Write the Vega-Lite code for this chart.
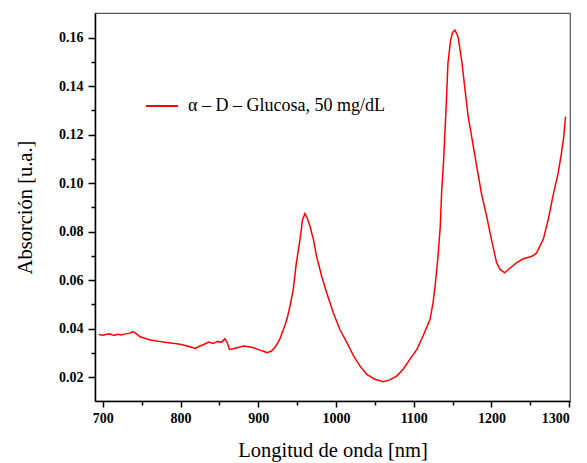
{
  "$schema": "https://vega.github.io/schema/vega-lite/v6.json",
  "width": 475,
  "height": 388,
  "autosize": {"type": "none"},
  "padding": {"left": 95, "top": 13, "right": 17, "bottom": 62},
  "background": "white",
  "config": {
    "view": {"stroke": "#555555", "strokeWidth": 1.2},
    "axis": {
      "grid": false,
      "domainColor": "#000000",
      "domainWidth": 1.5,
      "tickColor": "#000000",
      "tickWidth": 1.5,
      "labelFont": "Liberation Serif",
      "labelFontWeight": "bold",
      "labelFontSize": 14,
      "labelColor": "#000000",
      "titleFont": "Liberation Serif",
      "titleFontWeight": "normal",
      "titleFontSize": 20.5,
      "titleColor": "#000000"
    }
  },
  "data": {
    "values": [
      {"nm": 695, "abs": 0.0375}, {"nm": 700, "abs": 0.0372}, {"nm": 705, "abs": 0.0376},
      {"nm": 709, "abs": 0.0378}, {"nm": 714, "abs": 0.0371}, {"nm": 719, "abs": 0.0376},
      {"nm": 724, "abs": 0.0373}, {"nm": 729, "abs": 0.0378}, {"nm": 734, "abs": 0.0380},
      {"nm": 739, "abs": 0.0387}, {"nm": 743, "abs": 0.0379}, {"nm": 748, "abs": 0.0366},
      {"nm": 754, "abs": 0.0360}, {"nm": 761, "abs": 0.0353}, {"nm": 767, "abs": 0.0350},
      {"nm": 774, "abs": 0.0346}, {"nm": 780, "abs": 0.0343}, {"nm": 787, "abs": 0.0340},
      {"nm": 793, "abs": 0.0338}, {"nm": 799, "abs": 0.0335}, {"nm": 806, "abs": 0.0330},
      {"nm": 812, "abs": 0.0325}, {"nm": 819, "abs": 0.0318}, {"nm": 825, "abs": 0.0328},
      {"nm": 830, "abs": 0.0334}, {"nm": 836, "abs": 0.0344}, {"nm": 842, "abs": 0.0338},
      {"nm": 847, "abs": 0.0346}, {"nm": 853, "abs": 0.0344}, {"nm": 857, "abs": 0.0358},
      {"nm": 860, "abs": 0.0342}, {"nm": 863, "abs": 0.0314}, {"nm": 868, "abs": 0.0317},
      {"nm": 874, "abs": 0.0322}, {"nm": 881, "abs": 0.0328}, {"nm": 888, "abs": 0.0325},
      {"nm": 894, "abs": 0.0321}, {"nm": 902, "abs": 0.0311}, {"nm": 907, "abs": 0.0306},
      {"nm": 911, "abs": 0.0300}, {"nm": 917, "abs": 0.0307}, {"nm": 921, "abs": 0.0321},
      {"nm": 924, "abs": 0.0335}, {"nm": 928, "abs": 0.0358}, {"nm": 931, "abs": 0.0385},
      {"nm": 934, "abs": 0.0410}, {"nm": 937, "abs": 0.0440}, {"nm": 941, "abs": 0.0495},
      {"nm": 945, "abs": 0.0561}, {"nm": 949, "abs": 0.0671}, {"nm": 953.7, "abs": 0.0767},
      {"nm": 957, "abs": 0.0849}, {"nm": 960, "abs": 0.0874}, {"nm": 963, "abs": 0.0856},
      {"nm": 966.5, "abs": 0.0822}, {"nm": 971, "abs": 0.0767}, {"nm": 975, "abs": 0.0698},
      {"nm": 981.6, "abs": 0.0616}, {"nm": 988, "abs": 0.0548}, {"nm": 996.5, "abs": 0.0465},
      {"nm": 1005, "abs": 0.0396}, {"nm": 1014, "abs": 0.0342}, {"nm": 1022.6, "abs": 0.0287},
      {"nm": 1031, "abs": 0.0245}, {"nm": 1039.5, "abs": 0.0211}, {"nm": 1050, "abs": 0.0191},
      {"nm": 1061, "abs": 0.0181}, {"nm": 1069, "abs": 0.0188}, {"nm": 1078, "abs": 0.0204},
      {"nm": 1086.5, "abs": 0.0232}, {"nm": 1095, "abs": 0.0273}, {"nm": 1104, "abs": 0.0314},
      {"nm": 1112, "abs": 0.0369}, {"nm": 1121, "abs": 0.0438}, {"nm": 1125, "abs": 0.0510},
      {"nm": 1128, "abs": 0.0590}, {"nm": 1131, "abs": 0.0690}, {"nm": 1134, "abs": 0.0815},
      {"nm": 1136, "abs": 0.0970}, {"nm": 1138.5, "abs": 0.1097}, {"nm": 1141.5, "abs": 0.1302},
      {"nm": 1144, "abs": 0.1495}, {"nm": 1147.5, "abs": 0.1591}, {"nm": 1150, "abs": 0.1622},
      {"nm": 1153, "abs": 0.1632}, {"nm": 1157, "abs": 0.1604}, {"nm": 1161.6, "abs": 0.1508},
      {"nm": 1166, "abs": 0.1385}, {"nm": 1170, "abs": 0.1275}, {"nm": 1174.5, "abs": 0.1192},
      {"nm": 1181, "abs": 0.1069}, {"nm": 1187, "abs": 0.0959}, {"nm": 1193.8, "abs": 0.0863},
      {"nm": 1200, "abs": 0.0767}, {"nm": 1206.6, "abs": 0.0671}, {"nm": 1211, "abs": 0.0644},
      {"nm": 1217, "abs": 0.0630}, {"nm": 1224, "abs": 0.0650}, {"nm": 1232, "abs": 0.0671},
      {"nm": 1241, "abs": 0.0688}, {"nm": 1252, "abs": 0.0698}, {"nm": 1258, "abs": 0.0712},
      {"nm": 1266.5, "abs": 0.0767}, {"nm": 1273, "abs": 0.0849}, {"nm": 1279, "abs": 0.0945},
      {"nm": 1285.8, "abs": 0.1042}, {"nm": 1290, "abs": 0.1124}, {"nm": 1293, "abs": 0.1192},
      {"nm": 1295.3, "abs": 0.1275}
    ]
  },
  "transform": [{"calculate": "'α – D – Glucosa, 50 mg/dL'", "as": "serie"}],
  "layer": [
    {
      "mark": {"type": "line", "strokeWidth": 1.5, "clip": true},
      "encoding": {
        "x": {
          "field": "nm", "type": "quantitative",
          "scale": {"domain": [690, 1301], "nice": false, "zero": false},
          "axis": {
            "title": "Longitud de onda [nm]",
            "values": [700, 800, 900, 1000, 1100, 1200, 1300],
            "format": "d",
            "tickSize": 6,
            "labelPadding": 4,
            "titlePadding": 15,
            "orient": "bottom"
          }
        },
        "y": {
          "field": "abs", "type": "quantitative",
          "scale": {"domain": [0.0101, 0.1702], "nice": false, "zero": false},
          "axis": {
            "title": "Absorción [u.a.]",
            "values": [0.02, 0.04, 0.06, 0.08, 0.1, 0.12, 0.14, 0.16],
            "format": ".2f",
            "tickSize": 7,
            "labelPadding": 5,
            "titlePadding": 23,
            "orient": "left"
          }
        },
        "color": {
          "field": "serie", "type": "nominal",
          "scale": {"range": ["#ff0000"]},
          "legend": {
            "title": null,
            "orient": "none",
            "legendX": 50,
            "legendY": 76,
            "padding": 0,
            "symbolType": "stroke",
            "symbolSize": 1024,
            "symbolStrokeWidth": 2,
            "labelFont": "Liberation Serif",
            "labelFontSize": 18,
            "labelColor": "#000000",
            "labelOffset": 9,
            "labelLimit": 400
          }
        }
      }
    },
    {
      "mark": {"type": "line", "opacity": 0},
      "encoding": {
        "x": {
          "field": "nm", "type": "quantitative",
          "scale": {"domain": [690, 1301], "nice": false, "zero": false},
          "axis": {
            "title": null, "labels": false, "domain": false,
            "values": [750, 850, 950, 1050, 1150, 1250],
            "tickSize": 4, "orient": "bottom"
          }
        },
        "y": {
          "field": "abs", "type": "quantitative",
          "scale": {"domain": [0.0101, 0.1702], "nice": false, "zero": false},
          "axis": {
            "title": null, "labels": false, "domain": false,
            "values": [0.03, 0.05, 0.07, 0.09, 0.11, 0.13, 0.15],
            "tickSize": 4, "orient": "left"
          }
        }
      }
    }
  ],
  "resolve": {"axis": {"x": "independent", "y": "independent"}}
}
